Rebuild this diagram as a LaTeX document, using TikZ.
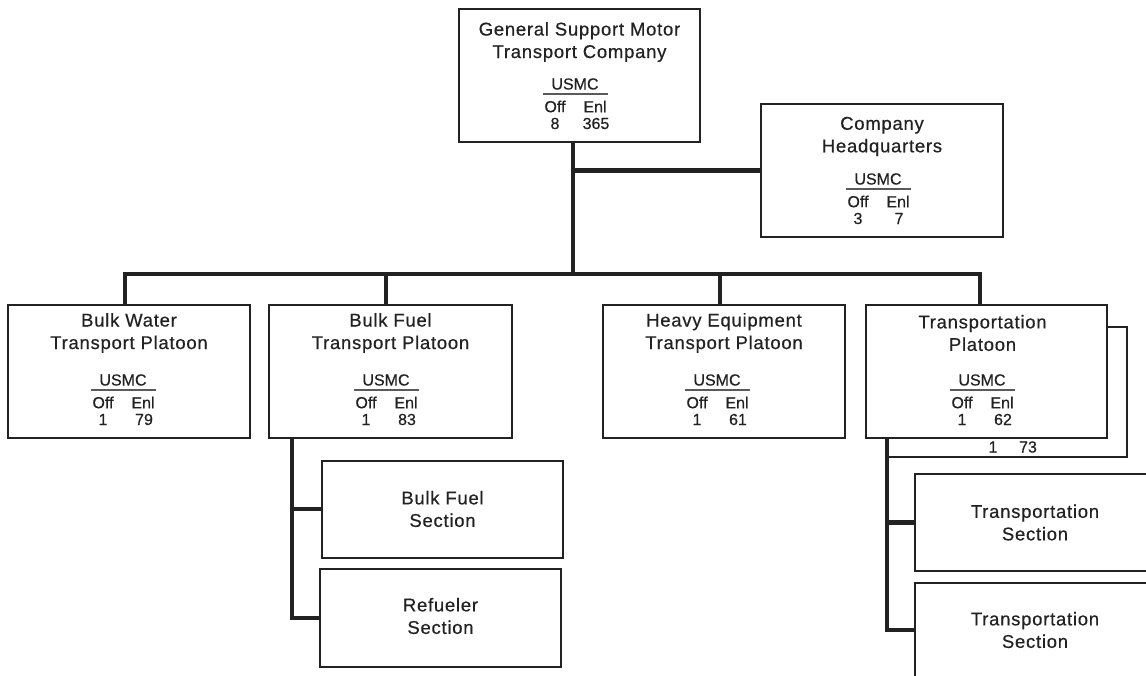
\documentclass[tikz,border=0pt]{standalone}
\usepackage{fontspec}
\setmainfont{Liberation Sans}
\newfontfamily\usmcfont{Liberation Sans}[FakeBold=0.5]
\newfontfamily\titlefont{Liberation Sans}[LetterSpace=4,FakeBold=0.5]
\usetikzlibrary{calc}
\definecolor{ink}{HTML}{222222}
\definecolor{rule}{HTML}{5A5A5A}
\tikzset{
  orgbox/.style={draw=ink, line width=2pt, fill=white, inner sep=0pt},
  bigbox/.style={orgbox, minimum width=242pt, minimum height=133pt},
  secbox/.style={orgbox, minimum width=241pt, minimum height=97pt},
  conn/.style={draw=ink, line width=4.5pt},
  edge/.style={draw=ink, line width=2pt},
  ttl/.style={font=\titlefont\fontsize{18.5}{22.5}\selectfont, text=ink, align=center, inner sep=0pt},
  usmc/.style={font=\usmcfont\fontsize{16}{18}\selectfont, text=ink, inner sep=0pt},
  uline/.style={draw=rule, line width=1.5pt}
}
\newcommand\usmcblock[3]{%
  \node[usmc] (#1-u) at (#1) {USMC};
  \draw[uline] ($(#1)+(-32,10)$) -- ($(#1)+(33,10)$);
  \node[usmc] (#1-o) at ($(#1)+(-20,22.5)$) {Off};
  \node[usmc] (#1-e) at ($(#1)+(20,22.5)$) {Enl};
  \node[usmc] (#1-on) at ($(#1)+(-20,39.5)$) {#2};
  \node[usmc] (#1-en) at ($(#1)+(21,39.5)$) {#3};
}
\begin{document}
\begin{tikzpicture}[x=1pt,y=-1pt]
\useasboundingbox (0,0) rectangle (1146,676);
\clip (0,0) rectangle (1146,676);
\fill[white] (0,0) rectangle (1146,676);

% boxes
\node[bigbox, minimum width=241pt] (top) at (579.5,75.5) {};
\node[bigbox] (HQ) at (882,170.5) {};
\node[bigbox] (BW) at (129,371.5) {};
\node[bigbox, minimum width=243pt] (BF) at (390.5,371.5) {};
\node[bigbox] (HE) at (724,371.5) {};
\node[bigbox, minimum width=241pt] (TP) at (986.5,371.5) {};
\node[secbox] (BFS) at (442.5,509) {};
\node[secbox, minimum height=98pt] (RS) at (440.5,618) {};
\node[secbox] (TS1) at (1035,522.5) {};
\node[secbox, minimum height=94pt] (TS2) at (1035,630) {};

% shadow of transportation platoon
\coordinate (tpv) at ($(TP.south west)+(22,0)$);
\coordinate (shbr) at ($(TP.south east)+(19,18)$);
\draw[edge] ($(TP.north east)+(0,23)$) -| (shbr) -- (tpv |- shbr);
\node[usmc] (tp-x1) at (993,447) {1};
\node[usmc] (tp-x2) at (1028,447) {73};

% connectors
\coordinate (tr) at ($(top.south)+(-6.5,0)$);
\draw[conn] (tr) -- ($(tr)+(0,133)$);
\draw[conn] (tr |- HQ.west) -- (HQ.west);
\draw[conn] ($(BW.north)+(-4,0)$) -- ++(0,-30) -| ($(TP.north)+(-6.5,0)$);
\draw[conn] ($(BF.north)+(-4.5,0)$) -- ++(0,-30);
\draw[conn] ($(HE.north)+(-4,0)$) -- ++(0,-30);
\coordinate (bfv) at ($(BF.south west)+(24,0)$);
\draw[conn] (bfv) |- (RS.west);
\draw[conn] (bfv |- BFS.west) -- (BFS.west);
\draw[conn] (tpv) |- (TS2.west);
\draw[conn] (tpv |- TS1.west) -- (TS1.west);

% titles
\node[ttl] (top-t) at ($(top.north)+(0,34)$) {General Support Motor\\Transport Company};
\node[ttl] (HQ-t) at ($(HQ.north)+(0,33.5)$) {Company\\Headquarters};
\node[ttl] (BW-t) at ($(BW.north)+(0,29)$) {Bulk Water\\Transport Platoon};
\node[ttl] (BF-t) at ($(BF.north)+(0,29)$) {Bulk Fuel\\Transport Platoon};
\node[ttl] (HE-t) at ($(HE.north)+(0,29)$) {Heavy Equipment\\Transport Platoon};
\node[ttl] (TP-t) at ($(TP.north)+(-4,29)$) {Transportation\\Platoon};
\node[ttl] (BFS-t) at (BFS) {Bulk Fuel\\Section};
\node[ttl] (RS-t) at ($(RS)+(0,-2)$) {Refueler\\Section};
\node[ttl] (TS1-t) at (TS1) {Transportation\\Section};
\node[ttl] (TS2-t) at (TS2) {Transportation\\Section};

% USMC blocks
\coordinate (topU) at ($(top.north)+(-4.5,76)$);
\usmcblock{topU}{8}{365}
\coordinate (HQU) at ($(HQ.north)+(-4,76)$);
\usmcblock{HQU}{3}{7}
\coordinate (BWU) at ($(BW.north)+(-6,76)$);
\usmcblock{BWU}{1}{79}
\coordinate (BFU) at ($(BF.north)+(-4.5,76)$);
\usmcblock{BFU}{1}{83}
\coordinate (HEU) at ($(HE.north)+(-7,76)$);
\usmcblock{HEU}{1}{61}
\coordinate (TPU) at ($(TP.north)+(-4.5,76)$);
\usmcblock{TPU}{1}{62}
\end{tikzpicture}
\end{document}
